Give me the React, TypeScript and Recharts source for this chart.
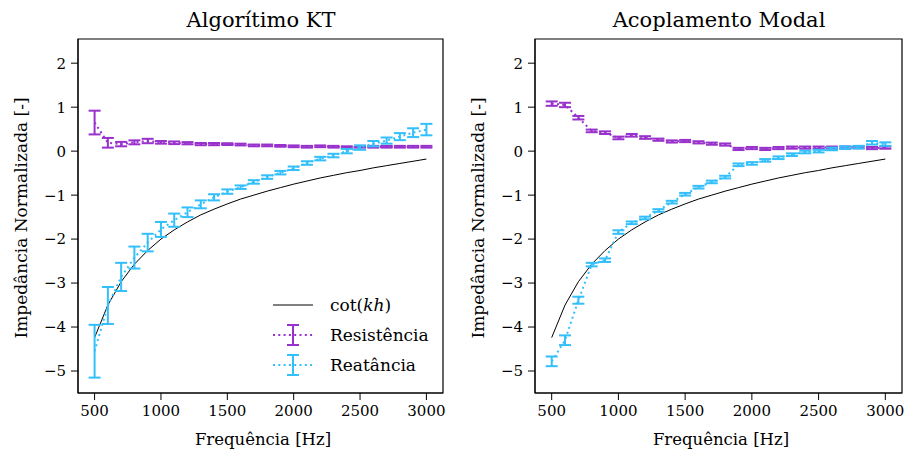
import {
  ComposedChart, Line, XAxis, YAxis, ErrorBar, ReferenceArea,
} from "recharts";

// frequency bands [Hz]
const freqs = [500, 600, 700, 800, 900, 1000, 1100, 1200, 1300, 1400, 1500, 1600, 1700,
  1800, 1900, 2000, 2100, 2200, 2300, 2400, 2500, 2600, 2700, 2800, 2900, 3000];

// theoretical curve
const cotKh = [-4.24, -3.5, -2.97, -2.57, -2.26, -2.0, -1.79, -1.61, -1.45, -1.32, -1.2, -1.09,
  -1.0, -0.91, -0.83, -0.75, -0.68, -0.61, -0.55, -0.49, -0.44, -0.38, -0.33, -0.28, -0.23, -0.18];

// Algorítimo KT
const ktRes = [0.65, 0.19, 0.16, 0.2, 0.23, 0.2, 0.19, 0.18, 0.16, 0.16, 0.16, 0.15, 0.13,
  0.13, 0.12, 0.11, 0.1, 0.11, 0.1, 0.09, 0.1, 0.1, 0.1, 0.1, 0.1, 0.1];
const ktResErr = [0.27, 0.11, 0.05, 0.045, 0.05, 0.03, 0.03, 0.025, 0.025, 0.025, 0.02, 0.02,
  0.02, 0.02, 0.02, 0.02, 0.02, 0.02, 0.02, 0.02, 0.02, 0.02, 0.02, 0.02, 0.02, 0.02];
const ktReat = [-4.55, -3.51, -2.86, -2.42, -2.08, -1.78, -1.57, -1.39, -1.21, -1.05, -0.92,
  -0.82, -0.7, -0.59, -0.49, -0.39, -0.27, -0.17, -0.1, 0.0, 0.08, 0.17, 0.24, 0.33, 0.42, 0.49];
const ktReatErr = [0.6, 0.42, 0.32, 0.25, 0.2, 0.17, 0.15, 0.11, 0.09, 0.07, 0.05, 0.04, 0.04,
  0.04, 0.04, 0.04, 0.04, 0.04, 0.04, 0.05, 0.05, 0.06, 0.07, 0.08, 0.1, 0.13];

// Acoplamento Modal
const mdRes = [1.08, 1.05, 0.76, 0.46, 0.42, 0.3, 0.36, 0.31, 0.26, 0.22, 0.23, 0.2, 0.17,
  0.15, 0.05, 0.07, 0.05, 0.07, 0.08, 0.08, 0.08, 0.08, 0.08, 0.09, 0.07, 0.08];
const mdResErr = [0.05, 0.05, 0.04, 0.03, 0.03, 0.03, 0.03, 0.03, 0.025, 0.025, 0.025, 0.025,
  0.025, 0.025, 0.025, 0.025, 0.025, 0.025, 0.025, 0.025, 0.025, 0.025, 0.025, 0.025, 0.025, 0.025];
const mdReat = [-4.78, -4.3, -3.39, -2.58, -2.48, -1.84, -1.63, -1.52, -1.35, -1.16, -0.98,
  -0.82, -0.7, -0.59, -0.31, -0.28, -0.21, -0.15, -0.08, -0.02, 0.0, 0.05, 0.08, 0.09, 0.19, 0.16];
const mdReatErr = [0.11, 0.11, 0.08, 0.04, 0.04, 0.04, 0.03, 0.03, 0.03, 0.03, 0.03, 0.03,
  0.03, 0.03, 0.03, 0.03, 0.03, 0.03, 0.03, 0.03, 0.03, 0.03, 0.03, 0.03, 0.04, 0.04];

const xTicks = [500, 1000, 1500, 2000, 2500, 3000];
const yTicks = [-5, -4, -3, -2, -1, 0, 1, 2];

const PURPLE = "#9932CC";
const BLUE = "#33BFFA";
const FONT = "'DejaVu Serif', serif";
const W = 453;
const H = 455;

const build = (res: number[], resErr: number[], reat: number[], reatErr: number[]) =>
  freqs.map((f, i) => ({
    f, cot: cotKh[i], res: res[i], resErr: resErr[i], reat: reat[i], reatErr: reatErr[i],
  }));

const ktData = build(ktRes, ktResErr, ktReat, ktReatErr);
const mdData = build(mdRes, mdResErr, mdReat, mdReatErr);

const tickFont = { fontFamily: FONT, fontSize: 15, fill: "#000" };

const XTick = (p: any) => (
  <text x={p.x} y={p.y} dy="0.85em" textAnchor="middle" style={tickFont}>
    {p.payload.value}
  </text>
);

const YTick = (p: any) => (
  <text x={p.x} y={p.y} dy="0.36em" textAnchor="end" style={tickFont}>
    {String(p.payload.value).replace("-", "\u2212")}
  </text>
);

const Panel = ({ data, left, yw, right }: { data: any[]; left: number; yw: number; right: number }) => (
  <div style={{ position: "absolute", left, top: 0 }}>
    <ComposedChart width={left === 0 ? W : 907 - W} height={H} data={data}
      margin={{ top: 39, right, bottom: 0, left: 0 }}>
      <XAxis dataKey="f" type="number" domain={[375, 3125]} ticks={xTicks} allowDataOverflow
        height={62} tickSize={7} tickMargin={3} stroke="#000" tick={<XTick />} />
      <YAxis type="number" domain={[-5.5, 2.55]} ticks={yTicks} allowDataOverflow width={yw}
        tickSize={7} tickMargin={5} stroke="#000" tick={<YTick />} />
      <ReferenceArea x1={375} x2={3125} y1={-5.5} y2={2.55} fill="none" stroke="#000"
        strokeWidth={1.2} fillOpacity={0} />
      <Line dataKey="cot" stroke="#000" strokeWidth={1} dot={false} isAnimationActive={false} />
      <Line dataKey="res" stroke={PURPLE} strokeWidth={2} strokeDasharray="2 3.3" dot={false}
        isAnimationActive={false}>
        <ErrorBar dataKey="resErr" width={6} strokeWidth={2} stroke={PURPLE} direction="y" />
      </Line>
      <Line dataKey="reat" stroke={BLUE} strokeWidth={2} strokeDasharray="2 3.3" dot={false}
        isAnimationActive={false}>
        <ErrorBar dataKey="reatErr" width={6} strokeWidth={2} stroke={BLUE} direction="y" />
      </Line>
    </ComposedChart>
  </div>
);

const Txt = ({ x, y, size, children, rotate }: any) => (
  <div style={{
    position: "absolute", left: x, top: y, fontFamily: FONT, fontSize: size, lineHeight: 1,
    whiteSpace: "nowrap", color: "#000",
    transform: `translate(-50%, -50%)${rotate ? " rotate(-90deg)" : ""}`,
  }}>{children}</div>
);

const ErrHandle = ({ color }: { color: string }) => (
  <svg width={40} height={24} style={{ display: "block" }}>
    <line x1={0} y1={12} x2={40} y2={12} stroke={color} strokeWidth={2} strokeDasharray="2 3.3" />
    <line x1={20} y1={2} x2={20} y2={22} stroke={color} strokeWidth={2} />
    <line x1={14} y1={2} x2={26} y2={2} stroke={color} strokeWidth={2} />
    <line x1={14} y1={22} x2={26} y2={22} stroke={color} strokeWidth={2} />
  </svg>
);

const LegendBox = () => (
  <div style={{ position: "absolute", left: 273, top: 290 }}>
    {[
      { h: <svg width={40} height={24} style={{ display: "block" }}><line x1={0} y1={12} x2={40} y2={12} stroke="#000" strokeWidth={1} /></svg>,
        t: <span>cot(<i>kh</i>)</span> },
      { h: <ErrHandle color={PURPLE} />, t: "Resistência" },
      { h: <ErrHandle color={BLUE} />, t: "Reatância" },
    ].map((e, i) => (
      <div key={i} style={{ position: "absolute", left: 0, top: i * 30 + 3, display: "flex", alignItems: "center" }}>
        {e.h}
        <span style={{ marginLeft: 17, fontFamily: FONT, fontSize: 17, lineHeight: 1, whiteSpace: "nowrap" }}>{e.t}</span>
      </div>
    ))}
  </div>
);

export default function App() {
  return (
    <div style={{ position: "absolute", left: 0, top: 0, width: 907, height: 455, background: "#fff" }}>
      <Panel data={ktData} left={0} yw={78} right={10} />
      <Panel data={mdData} left={W} yw={82} right={5} />
      <Txt x={261} y={20} size={21}>Algorítimo KT</Txt>
      <Txt x={719} y={20} size={21}>Acoplamento Modal</Txt>
      <Txt x={263} y={440} size={16.5}>Frequência [Hz]</Txt>
      <Txt x={721} y={440} size={16.5}>Frequência [Hz]</Txt>
      <Txt x={21} y={218} size={17} rotate>Impedância Normalizada [-]</Txt>
      <Txt x={478} y={218} size={17} rotate>Impedância Normalizada [-]</Txt>
      <LegendBox />
    </div>
  );
}
